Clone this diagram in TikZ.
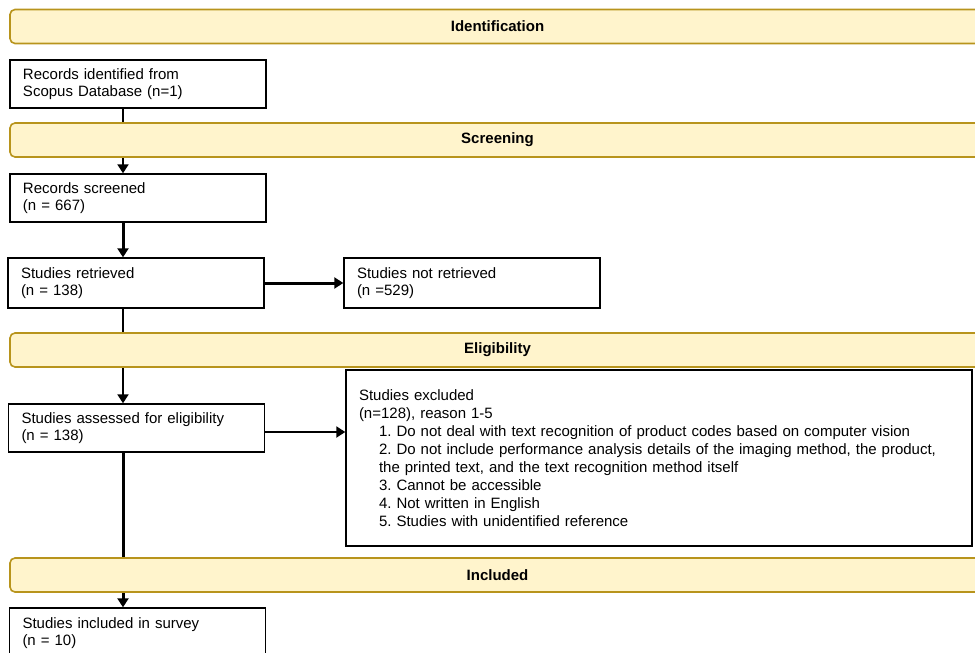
\documentclass[tikz,border=0pt]{standalone}
\usepackage{fontspec}
\setmainfont{Liberation Sans}
\usepackage{tikz}
\usetikzlibrary{arrows.meta}
\definecolor{bannerfill}{RGB}{255,244,204}
\definecolor{bannerline}{RGB}{184,148,28}
\tikzstyle{block} = [rectangle, draw, line width=1.4pt, fill=white, align=left,
                 inner xsep=13pt, text width=230pt, font=\frenchspacing\fontsize{15}{17}\selectfont]
\tikzstyle{phase} = [rectangle, draw=bannerline, line width=1.6pt, fill=bannerfill,
                 rounded corners=5pt, minimum height=34pt, minimum width=975pt,
                 font=\bfseries\fontsize{15}{17}\selectfont]
\tikzstyle{branch} = [line width=2pt, draw, -{Triangle[length=9pt,width=11pt]}]
\tikzset{
	trunk/.style={branch, line width=3pt},
}

\begin{document}
\begin{tikzpicture}[x=1pt, y=-1pt]

\clip (0,0) rectangle (975,653);
\coordinate (spine) at (123,0);

\node [block, minimum height=48pt] at (138,84) (ident) {Records identified from\\Scopus Database (n=1)};
\node [block, minimum height=48pt] at (138,198) (screen) {Records screened\\(n = 667)};
\node [block, minimum height=50pt] at (136,283) (retr) {Studies retrieved\\(n = 138)};
\node [block, minimum height=50pt] at (472,283) (notretr) {Studies not retrieved\\(n =529)};
\node [block, minimum height=48pt] at (136.5,428) (assess) {Studies assessed for eligibility\\(n = 138)};
\node [block, minimum height=50pt] at (137.5,633) (incl) {Studies included in survey\\(n = 10)};
\node [block, text width=600pt, minimum height=176pt, font=\frenchspacing\fontsize{15}{18}\selectfont]
	at (659,458) (excl) {Studies excluded\\
(n=128), reason 1-5\\
\hspace*{20pt}1. Do not deal with text recognition of product codes based on computer vision\\
\hspace*{20pt}2. Do not include performance analysis details of the imaging method, the product,\\
\hspace*{20pt}the printed text, and the text recognition method itself\\
\hspace*{20pt}3. Cannot be accessible\\
\hspace*{20pt}4. Not written in English\\
\hspace*{20pt}5. Studies with unidentified reference};

	%flow
\path[branch] (ident.south -| spine) -- (screen.north -| spine);
\path[trunk] (screen.south -| spine) -- (retr.north -| spine);
\path[branch] (retr.south -| spine) -- (assess.north -| spine);
\path[trunk] (assess.south -| spine) -- (incl.north -| spine);
\path[trunk] (retr.east) -- (notretr.west);
\path[branch] (assess.east |- 0,432) -- (excl.west |- 0,432);

	%phases
\foreach \y/\label in {26.5/Identification, 140/Screening, 350/Eligibility, 575/Included}
	\node [phase] at (497.5,\y) (\label) {\label};

\end{tikzpicture}
\end{document}
